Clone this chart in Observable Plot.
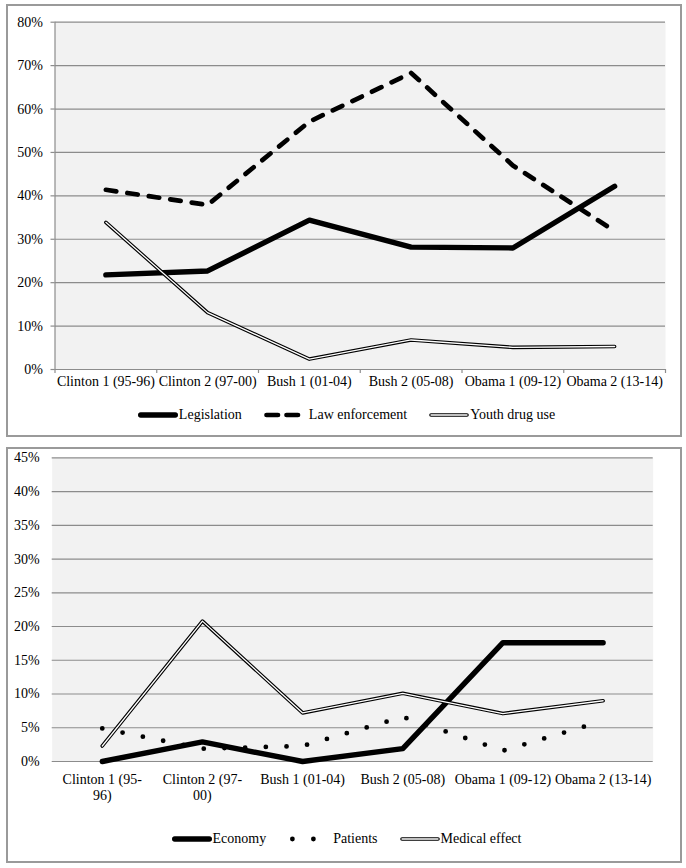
<!DOCTYPE html>
<html>
<head>
<meta charset="utf-8">
<script src="https://cdn.jsdelivr.net/npm/d3@7"></script>
<script src="https://cdn.jsdelivr.net/npm/@observablehq/plot@0.6"></script>
<style>
html, body { margin: 0; padding: 0; background: #fff; }
body { position: relative; width: 686px; height: 868px; overflow: hidden; font-family: 'Liberation Serif', serif; }
.box { position: absolute; box-sizing: border-box; border: 2px solid #9a9a9a; background: #fff; }
.chart { position: absolute; left: 0; width: 686px; }
.legend { position: absolute; left: 0; width: 686px; box-sizing: border-box; padding-left: 7px; display: flex; justify-content: center; align-items: center; font-family: 'Liberation Serif', serif; font-size: 14px; color: #000; line-height: 18px; height: 18px; }
.item { display: flex; align-items: center; margin: 0 11px; white-space: nowrap; }
.item svg { display: block; }
</style>
</head>
<body>
<div class="box" style="left:6px;top:4px;width:676px;height:433px"></div>
<div class="box" style="left:6px;top:447px;width:676px;height:416px"></div>
<div id="topChart" class="chart" style="top:0px"></div>
<div id="topLegend" class="legend" style="top:406px"></div>
<div id="bottomChart" class="chart" style="top:440px"></div>
<div id="bottomLegend" class="legend" style="top:830px"></div>
<script>
// ---------- data ----------
const periods = ["Clinton 1 (95-96)", "Clinton 2 (97-00)", "Bush 1 (01-04)", "Bush 2 (05-08)", "Obama 1 (09-12)", "Obama 2 (13-14)"];
const topTickLabels = ["Clinton 1 (95-96)", "Clinton 2 (97-00)", "Bush 1 (01-04)", "Bush 2 (05-08)", "Obama 1 (09-12)", "Obama 2 (13-14)"];
const bottomTickLabels = ["Clinton 1 (95-\n96)", "Clinton 2 (97-\n00)", "Bush 1 (01-04)", "Bush 2 (05-08)", "Obama 1 (09-12)", "Obama 2 (13-14)"];

const legislation    = [0.218, 0.227, 0.344, 0.282, 0.280, 0.422];
const lawEnforcement = [0.414, 0.379, 0.571, 0.683, 0.470, 0.319];
const youthDrugUse   = [0.339, 0.131, 0.024, 0.068, 0.051, 0.053];

const economy        = [0.000, 0.029, 0.000, 0.019, 0.176, 0.176];
const patients       = [0.049, 0.019, 0.023, 0.066, 0.016, 0.060];
const medicalEffect  = [0.023, 0.208, 0.072, 0.101, 0.071, 0.090];

const topYTicks    = [0, 0.1, 0.2, 0.3, 0.4, 0.5, 0.6, 0.7, 0.8];
const bottomYTicks = [0, 0.05, 0.10, 0.15, 0.20, 0.25, 0.30, 0.35, 0.40, 0.45];

const topSeries = ["Legislation", "Law enforcement", "Youth drug use"];
const bottomSeries = ["Economy", "Patients", "Medical effect"];

// ---------- helpers ----------
const FONT = "'Liberation Serif', serif";
const GRID = "#8c8c8c";
const rows = vals => periods.map((p, i) => ({period: p, pos: i + 0.5, v: vals[i]}));
const pct = d3.format(".0%");

// ---------- top chart ----------
const topPlot = Plot.plot({
  width: 686, height: 400,
  marginLeft: 54.5, marginRight: 21, marginTop: 21.7, marginBottom: 31,
  style: {fontFamily: FONT, fontSize: "14px", color: "#000", background: "transparent", overflow: "visible"},
  x: {type: "linear", domain: [0, periods.length], axis: null},
  y: {type: "linear", domain: [0, 0.8], axis: null},
  marks: [
    Plot.frame({fill: "#f2f2f2", stroke: null}),
    Plot.gridY(topYTicks, {stroke: GRID, strokeOpacity: 1, strokeWidth: 1.2}),
    Plot.axisY({ticks: topYTicks, tickFormat: pct, tickSize: 4, tickPadding: 8, stroke: GRID, strokeWidth: 1.2, label: null, fontSize: 14}),
    Plot.ruleX([0], {stroke: GRID, strokeWidth: 1.2}),
    Plot.ruleY([0], {stroke: GRID, strokeWidth: 1.2}),
    Plot.axisX({ticks: d3.range(periods.length + 1), tickSize: 4, tickFormat: () => "", stroke: GRID, strokeWidth: 1.2, label: null}),
    Plot.text(topTickLabels, {x: (d, i) => i + 0.5, text: d => d, frameAnchor: "bottom", lineAnchor: "top", dy: 7, fontSize: 14, fill: "#000"}),
    Plot.line(rows(legislation), {x: "pos", y: "v", stroke: "#000", strokeWidth: 5.4, strokeLinecap: "round", strokeLinejoin: "round"}),
    Plot.line(rows(lawEnforcement), {x: "pos", y: "v", stroke: "#000", strokeWidth: 4.7, strokeDasharray: "10.5 11.2", strokeLinecap: "round", strokeLinejoin: "round"}),
    Plot.line(rows(youthDrugUse), {x: "pos", y: "v", stroke: "#000", strokeWidth: 3.6, strokeLinecap: "round", strokeLinejoin: "round"}),
    Plot.line(rows(youthDrugUse), {x: "pos", y: "v", stroke: "#fff", strokeWidth: 1.3, strokeLinecap: "round", strokeLinejoin: "round"})
  ]
});
document.getElementById("topChart").appendChild(topPlot);

// ---------- bottom chart ----------
const bottomPlot = Plot.plot({
  width: 686, height: 380,
  marginLeft: 51.7, marginRight: 33.3, marginTop: 17.3, marginBottom: 59,
  style: {fontFamily: FONT, fontSize: "14px", color: "#000", background: "transparent", overflow: "visible"},
  x: {type: "linear", domain: [0, periods.length], axis: null},
  y: {type: "linear", domain: [0, 0.45], axis: null},
  marks: [
    Plot.frame({fill: "#f2f2f2", stroke: null}),
    Plot.gridY(bottomYTicks, {stroke: GRID, strokeOpacity: 1, strokeWidth: 1.2}),
    Plot.axisY({ticks: bottomYTicks, tickFormat: pct, tickSize: 0, tickPadding: 12.5, label: null, fontSize: 14}),
    Plot.text(bottomTickLabels, {x: (d, i) => i + 0.5, text: d => d, frameAnchor: "bottom", lineAnchor: "top", lineHeight: 1.15, dy: 11, fontSize: 14, fill: "#000"}),
    Plot.line(rows(economy), {x: "pos", y: "v", stroke: "#000", strokeWidth: 5.4, strokeLinecap: "round", strokeLinejoin: "round"}),
    Plot.line(rows(patients), {x: "pos", y: "v", stroke: "#000", strokeWidth: 4.8, strokeDasharray: "0 20.7", strokeLinecap: "round", strokeLinejoin: "round"}),
    Plot.line(rows(medicalEffect), {x: "pos", y: "v", stroke: "#000", strokeWidth: 3.6, strokeLinecap: "round", strokeLinejoin: "round"}),
    Plot.line(rows(medicalEffect), {x: "pos", y: "v", stroke: "#fff", strokeWidth: 1.3, strokeLinecap: "round", strokeLinejoin: "round"})
  ]
});
document.getElementById("bottomChart").appendChild(bottomPlot);

// ---------- legends ----------
function sample(kind) {
  const s = d3.create("svg").attr("width", 40).attr("height", 10);
  if (kind === "solid") {
    s.append("line").attr("x1", 2.7).attr("x2", 37.3).attr("y1", 5).attr("y2", 5)
      .attr("stroke", "#000").attr("stroke-width", 5.4).attr("stroke-linecap", "round");
  } else if (kind === "dash") {
    s.append("line").attr("x1", 2.5).attr("x2", 36).attr("y1", 5).attr("y2", 5)
      .attr("stroke", "#000").attr("stroke-width", 4.7).attr("stroke-linecap", "round").attr("stroke-dasharray", "11.5 8.5");
  } else if (kind === "dot") {
    s.append("line").attr("x1", 4.4).attr("x2", 36).attr("y1", 5).attr("y2", 5)
      .attr("stroke", "#000").attr("stroke-width", 4.8).attr("stroke-linecap", "round").attr("stroke-dasharray", "0 21");
  } else {
    s.append("line").attr("x1", 2).attr("x2", 38).attr("y1", 5).attr("y2", 5)
      .attr("stroke", "#000").attr("stroke-width", 3.6).attr("stroke-linecap", "round");
    s.append("line").attr("x1", 2).attr("x2", 38).attr("y1", 5).attr("y2", 5)
      .attr("stroke", "#fff").attr("stroke-width", 1.3).attr("stroke-linecap", "round");
  }
  return s.node();
}
function legend(id, names, kinds, gaps) {
  const root = d3.select("#" + id);
  names.forEach((n, i) => {
    const it = root.append("div").attr("class", "item");
    it.node().appendChild(sample(kinds[i]));
    it.append("span").style("margin-left", gaps[i] + "px").text(n);
  });
}
legend("topLegend", topSeries, ["solid", "dash", "double"], [1, 5, 1]);
legend("bottomLegend", bottomSeries, ["solid", "dot", "double"], [1, 5, 1]);
</script>
</body>
</html>
